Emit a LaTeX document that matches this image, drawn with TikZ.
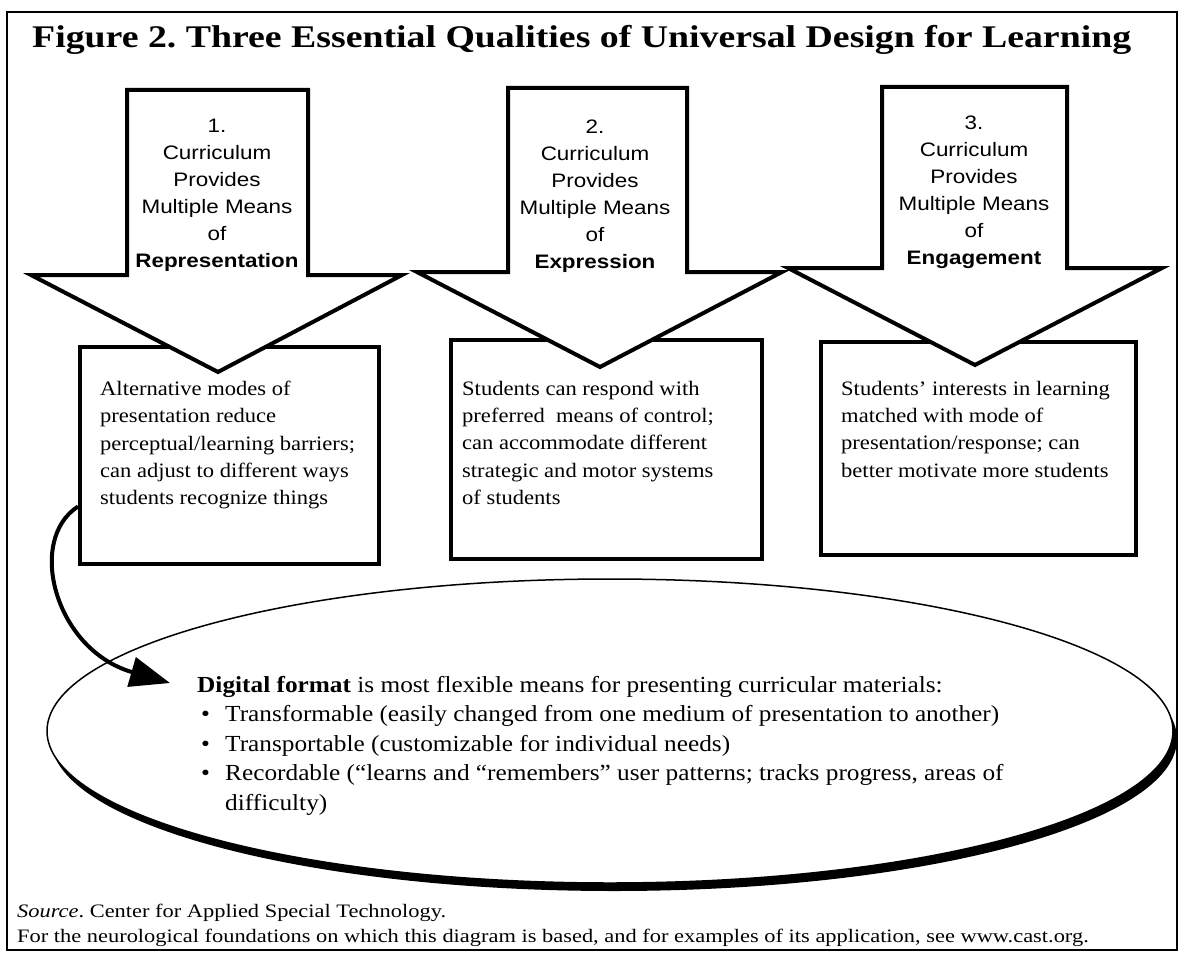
\documentclass[tikz,border=0pt]{standalone}
\usepackage{fontspec}
\setmainfont{Liberation Serif}[FakeStretch=1.1]
\setsansfont{Liberation Sans}[FakeStretch=1.15]
\newfontfamily\titlefont{Liberation Serif}[FakeStretch=1.2]
\newfontfamily\notefont{Liberation Serif}[FakeStretch=1.18]
\usetikzlibrary{arrows.meta,shapes.geometric,shadows}

\begin{document}
\frenchspacing
\begin{tikzpicture}[x=1pt,y=-1pt,
  blockarrow/.style={draw,line width=4pt,fill=white,line join=miter},
  quality/.style={font=\sffamily\fontsize{19.5}{27}\selectfont,align=center,anchor=north,inner sep=0pt},
  effectbox/.style={draw,line width=4pt,anchor=north west,inner sep=0pt},
  effecttext/.style={font=\fontsize{20.5}{27.2}\selectfont,align=left,anchor=north west,inner sep=0pt}]
\useasboundingbox (0,0) rectangle (1180,955);
\draw[line width=1.2pt] (7,12) rectangle (1177,950);

\node[anchor=base west,inner sep=0pt,font=\titlefont\bfseries\fontsize{31.5}{36}\selectfont] (title) at (32,48)
  {Figure 2. Three Essential Qualities of Universal Design for Learning};

% boxes under the arrows
\node[effectbox,minimum width=299pt,minimum height=217pt] (b1) at (78,345) {};
\node[effectbox,minimum width=311pt,minimum height=219pt] (b2) at (449,338) {};
\node[effectbox,minimum width=315pt,minimum height=213pt] (b3) at (819,340) {};

\node[effecttext] (t1) at (100,381) {Alternative modes of\\presentation reduce\\perceptual/learning barriers;\\can adjust to different ways\\students recognize things};
\node[effecttext] (t2) at (462,381) {Students can respond with\\preferred\ \ means of control;\\can accommodate different\\strategic and motor systems\\of students};
\node[effecttext] (t3) at (841,381) {Students’ interests in learning\\matched with mode of\\presentation/response; can\\better motivate more students};

% the three arrows
\path[blockarrow] (127,90) -- (308,90) -- (308,275) -- (402,275) -- (218,372) -- (31,275) -- (127,275) -- cycle;
\path[blockarrow] (508,88) -- (687,88) -- (687,272) -- (782,272) -- (600,367) -- (417,272) -- (508,272) -- cycle;
\path[blockarrow] (882,87) -- (1067,87) -- (1067,268) -- (1162,268) -- (975,365) -- (788,268) -- (882,268) -- cycle;

\node[quality] (q1) at (217,119) {1.\\Curriculum\\Provides\\Multiple Means\\of\\\textbf{Representation}};
\node[quality] (q2) at (595,120) {2.\\Curriculum\\Provides\\Multiple Means\\of\\\textbf{Expression}};
\node[quality] (q3) at (974,116) {3.\\Curriculum\\Provides\\Multiple Means\\of\\\textbf{Engagement}};

% digital format
\node[ellipse,draw,line width=1.5pt,fill=white,minimum width=1126pt,minimum height=304pt,
  drop shadow={shadow xshift=4pt,shadow yshift=-8pt,fill=black,opacity=1}] (medium) at (610,731) {};
\node[effecttext,font=\fontsize{23}{29.5}\selectfont] (dtext) at (197,676)
  {\textbf{Digital format} is most flexible means for presenting curricular materials:\\
   \hspace*{4pt}\makebox[24pt][l]{\textbullet}Transformable (easily changed from one medium of presentation to another)\\
   \hspace*{4pt}\makebox[24pt][l]{\textbullet}Transportable (customizable for individual needs)\\
   \hspace*{4pt}\makebox[24pt][l]{\textbullet}Recordable (“learns and “remembers” user patterns; tracks progress, areas of\\
   \hspace*{28pt}difficulty)};

\coordinate (dig) at (170,683);
\path[draw,line width=4pt,-{Triangle[length=40pt,width=30pt]}] ([yshift=-51pt]b1.west) .. controls (26,540) and (55,650) .. (dig);

% source
\node[anchor=base west,inner sep=0pt,font=\notefont\fontsize{19}{22}\selectfont] (src) at (17,917)
  {\textit{Source}. Center for Applied Special Technology.};
\node[anchor=base west,inner sep=0pt,font=\notefont\fontsize{19}{22}\selectfont] (note) at (17,942)
  {For the neurological foundations on which this diagram is based, and for examples of its application, see www.cast.org.};
\end{tikzpicture}
\end{document}
